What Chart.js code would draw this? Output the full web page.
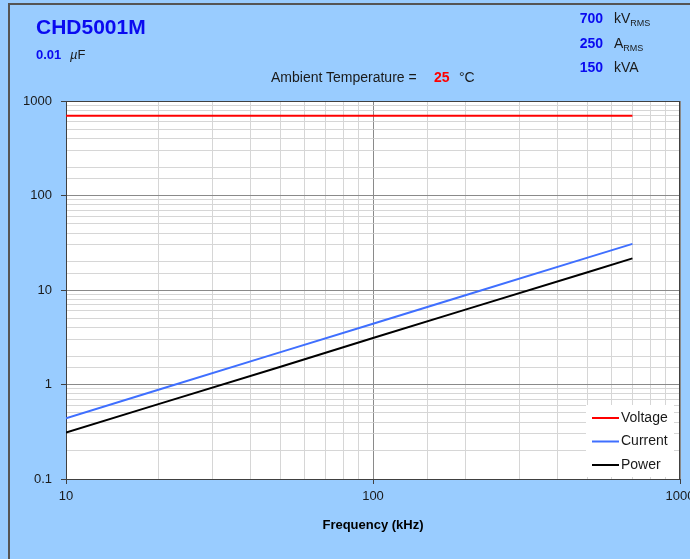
<!DOCTYPE html>
<html lang="en">
<head>
  <meta charset="UTF-8">
  <title>CHD5001M</title>
  <script src="https://cdn.jsdelivr.net/npm/chart.js"></script>
  <style>
    body {
      margin: 0;
      background-color: #99ccff;
      font-family: "Liberation Sans", Arial, sans-serif;
    }
    #wrap {
      position: relative;
      width: 690px;
      height: 559px;
      overflow: hidden;
    }
    #frame {
      position: absolute;
      left: 8px;
      top: 3px;
      right: -5px;
      bottom: -5px;
      border-left: 2px solid #555;
      border-top: 2px solid #555;
    }
    canvas {
      position: absolute;
      left: 0;
      top: 0;
    }
    .t {
      position: absolute;
      line-height: 1;
      white-space: nowrap;
      color: #1a1a1a;
    }
    .blue { color: #0a0af0; font-weight: bold; }
    .num { width: 60px; text-align: right; }
    sub { font-size: 9px; vertical-align: -3px; line-height: 0; }
  </style>
</head>
<body>
  <div id="wrap">
    <div id="frame"></div>
    <canvas id="chart" width="690" height="559"></canvas>

    <div class="t blue" style="left:36px; top:16px; font-size:21px;">CHD5001M</div>
    <div class="t blue" style="left:36px; top:48px; font-size:13px;">0.01</div>
    <div class="t" style="left:70px; top:48px; font-size:13px;"><i>µ</i>F</div>

    <div class="t blue num" style="left:543px; top:11px; font-size:14px;">700</div>
    <div class="t" style="left:614px; top:11px; font-size:14px;">kV<sub>RMS</sub></div>
    <div class="t blue num" style="left:543px; top:36px; font-size:14px;">250</div>
    <div class="t" style="left:614px; top:36px; font-size:14px;">A<sub>RMS</sub></div>
    <div class="t blue num" style="left:543px; top:60px; font-size:14px;">150</div>
    <div class="t" style="left:614px; top:60px; font-size:14px;">kVA</div>

    <div class="t" style="left:271px; top:70px; font-size:14px;">Ambient Temperature =</div>
    <div class="t" style="left:434px; top:70px; font-size:14px; color:#ff0000; font-weight:bold;">25</div>
    <div class="t" style="left:459px; top:70px; font-size:14px;">°C</div>
  </div>

  <script>
    // values
    const freq = [10, 20, 50, 100, 200, 500, 700];
    const voltage = [700, 700, 700, 700, 700, 700, 700];
    const current = [0.44, 0.88, 2.2, 4.4, 8.8, 22, 30.8];
    const power = [0.31, 0.62, 1.54, 3.1, 6.2, 15.4, 21.6];

    const seriesNames = ['Voltage', 'Current', 'Power'];
    const seriesColors = ['#ff0000', '#3f6fff', '#000000'];

    function isMajor(v) {
      const l = Math.log10(v);
      return Math.abs(l - Math.round(l)) < 1e-9;
    }

    function toPoints(ys) {
      return freq.map((f, i) => ({ x: f, y: ys[i] }));
    }

    // white plot area + dark frame
    const plotBg = {
      id: 'plotBg',
      beforeDraw(chart) {
        const { ctx, chartArea: a } = chart;
        ctx.save();
        ctx.fillStyle = '#ffffff';
        ctx.fillRect(a.left, a.top, a.right - a.left, a.bottom - a.top);
        ctx.restore();
      },
      beforeDatasetsDraw(chart) {
        const { ctx, chartArea: a } = chart;
        ctx.save();
        ctx.strokeStyle = '#404040';
        ctx.lineWidth = 1;
        ctx.strokeRect(a.left + 0.5, a.top + 0.5, a.right - a.left - 1, a.bottom - a.top);
        ctx.restore();
      }
    };

    // legend box inside the plot, bottom right
    const boxLegend = {
      id: 'boxLegend',
      afterDatasetsDraw(chart) {
        const { ctx, chartArea: a } = chart;
        const x0 = a.right - 94, y0 = a.bottom - 74;
        ctx.save();
        ctx.fillStyle = '#ffffff';
        ctx.fillRect(x0, y0, 88, 72);
        ctx.font = '14px "Liberation Sans", Arial, sans-serif';
        ctx.textBaseline = 'middle';
        chart.data.datasets.forEach((ds, i) => {
          const y = y0 + 13 + i * 23.5;
          ctx.strokeStyle = ds.borderColor;
          ctx.lineWidth = 2;
          ctx.beginPath();
          ctx.moveTo(x0 + 6, y);
          ctx.lineTo(x0 + 33, y);
          ctx.stroke();
          ctx.fillStyle = '#1a1a1a';
          ctx.fillText(ds.label, x0 + 35, y);
        });
        ctx.restore();
      }
    };

    const gridColor = c => isMajor(c.tick.value) ? '#8a8a8a' : '#d6d6d6';
    const tickColor = c => isMajor(c.tick.value) ? '#404040' : 'rgba(0,0,0,0)';

    const chart = new Chart(document.getElementById('chart'), {
      type: 'line',
      data: {
        datasets: [
          { label: seriesNames[0], data: toPoints(voltage), borderColor: seriesColors[0] },
          { label: seriesNames[1], data: toPoints(current), borderColor: seriesColors[1] },
          { label: seriesNames[2], data: toPoints(power), borderColor: seriesColors[2] }
        ]
      },
      options: {
        responsive: false,
        animation: false,
        parsing: true,
        layout: { padding: { top: 101, right: 10, left: 0, bottom: 0 } },
        elements: {
          point: { radius: 0 },
          line: { borderWidth: 2, tension: 0 }
        },
        plugins: {
          legend: { display: false },
          tooltip: { enabled: false }
        },
        scales: {
          x: {
            type: 'logarithmic',
            min: 10,
            max: 1000,
            grid: { color: gridColor, tickColor: tickColor, tickLength: 5 },
            border: { color: '#404040' },
            ticks: {
              autoSkip: false,
              maxRotation: 0,
              padding: 5,
              color: '#1a1a1a',
              font: { family: '"Liberation Sans", Arial, sans-serif', size: 13 },
              callback: v => isMajor(v) ? String(v) : ''
            },
            title: {
              display: true,
              text: 'Frequency (kHz)',
              color: '#000000',
              font: { family: '"Liberation Sans", Arial, sans-serif', size: 13, weight: 'bold' },
              padding: { top: 4, bottom: 26 }
            },
            afterFit(scale) {
              scale.height = 80;
              scale.paddingLeft = 0;
              scale.paddingRight = 0;
            }
          },
          y: {
            type: 'logarithmic',
            min: 0.1,
            max: 1000,
            grid: { color: gridColor, tickColor: tickColor, tickLength: 5 },
            border: { color: '#404040' },
            ticks: {
              autoSkip: false,
              padding: 9,
              color: '#1a1a1a',
              font: { family: '"Liberation Sans", Arial, sans-serif', size: 13 },
              callback: v => isMajor(v) ? String(v) : ''
            },
            afterFit(scale) {
              scale.width = 66;
            }
          }
        }
      },
      plugins: [plotBg, boxLegend]
    });
  </script>
</body>
</html>
